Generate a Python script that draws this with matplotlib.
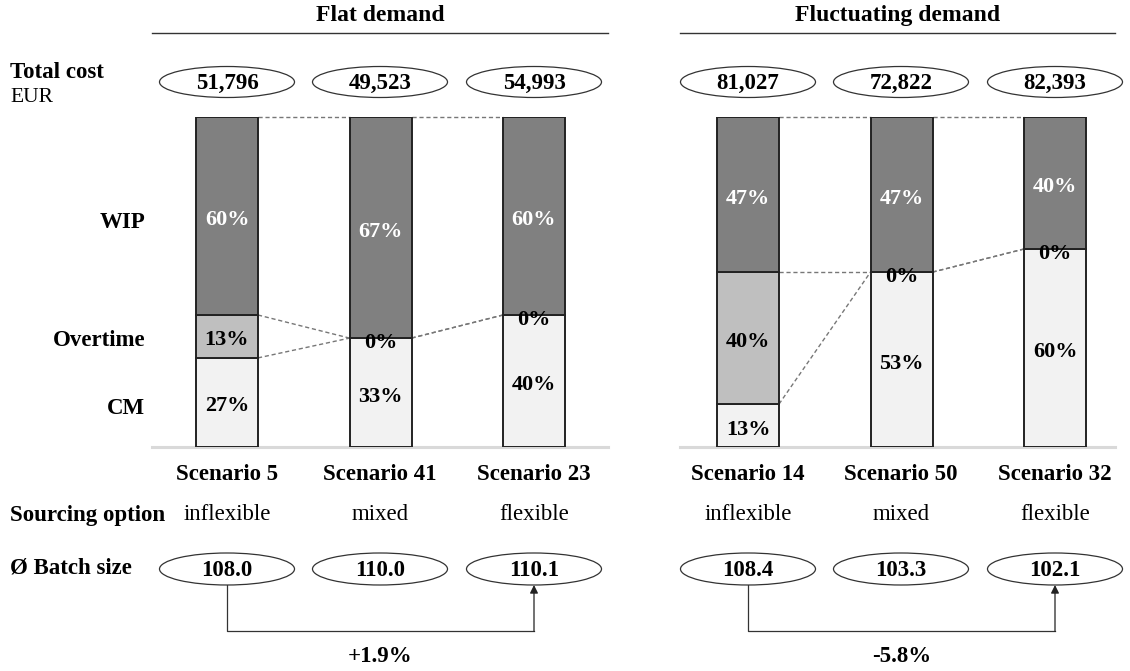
import numpy as np
import matplotlib
matplotlib.use("Agg")
import matplotlib.pyplot as plt
from matplotlib.patches import Ellipse

plt.rcParams["font.family"] = ["Liberation Serif", "DejaVu Serif"]

# data
panel_titles = ["Flat demand", "Fluctuating demand"]
scenarios = [["Scenario 5", "Scenario 41", "Scenario 23"],
             ["Scenario 14", "Scenario 50", "Scenario 32"]]
sourcing = ["inflexible", "mixed", "flexible"]
total_cost = [[51796, 49523, 54993], [81027, 72822, 82393]]
cm_share = [[27, 33, 40], [13, 53, 60]]
overtime_share = [[13, 0, 0], [40, 0, 0]]
wip_share = [[60, 67, 60], [47, 47, 40]]
batch_size = [[108.0, 110.0, 110.1], [108.4, 103.3, 102.1]]

# colours
c_wip = "#808080"
c_ot = "#bfbfbf"
c_cm = "#f2f2f2"

W, H = 1130, 671
fig = plt.figure(figsize=(W / 100, H / 100), dpi=100)

# overlay in pixel units for all the table-like text
ov = fig.add_axes([0, 0, 1, 1])
ov.set_xlim(0, W)
ov.set_ylim(H, 0)
ov.axis("off")

col_x = [[227, 380, 534], [748, 901, 1055]]
step = 153.5
bar_w = 62 / step
y_bottom, y_top = 447, 117
baseline_px = [(152, 608), (680, 1115)]

fs = 16.5
fs_pct = 16

for p in range(2):
    cx = col_x[p]
    left_px = cx[0] - step / 2
    ax = fig.add_axes([left_px / W, (H - y_bottom) / H, 3 * step / W, (y_bottom - y_top) / H],
                      zorder=2)
    ax.set_xlim(-0.5, 2.5)
    ax.set_ylim(0, 100)
    ax.axis("off")
    ax.patch.set_alpha(0)

    x = np.arange(3)
    cm = np.array(cm_share[p])
    ot = np.array(overtime_share[p])
    wip = np.array(wip_share[p])

    # light base line
    bx0 = (baseline_px[p][0] - cx[0]) / step
    bx1 = (baseline_px[p][1] - cx[0]) / step
    ax.plot([bx0, bx1], [0, 0], color="#d9d9d9", lw=2.2, zorder=1, clip_on=False)

    kw = dict(width=bar_w, edgecolor="#222222", linewidth=1.4, zorder=3)
    ax.bar(x, cm, color=c_cm, **kw)
    ax.bar(x, ot, bottom=cm, color=c_ot, **kw)
    ax.bar(x, wip, bottom=cm + ot, color=c_wip, **kw)

    # dashed connectors between neighbouring bars
    levels = np.vstack([cm, cm + ot, cm + ot + wip])
    for i in range(2):
        for lv in range(3):
            ax.plot([x[i] + bar_w / 2, x[i + 1] - bar_w / 2],
                    [levels[lv, i], levels[lv, i + 1]],
                    color="#777777", lw=1.0, ls=(0, (3, 2)), zorder=2, clip_on=False)

    # segment labels (white on the dark WIP part)
    for i in range(3):
        bottoms = [0, cm[i], cm[i] + ot[i]]
        colors = ["black", "black", "white"]
        for val, b, tc in zip([cm[i], ot[i], wip[i]], bottoms, colors):
            if val == 0:
                y, tc = b - 1.6, "black"
            else:
                y = b + val / 2 - 1.2
            ax.text(x[i], y, f"{val}%", ha="center", va="center",
                    fontsize=fs_pct, fontweight="bold", color=tc, zorder=5)

    # header
    mid = (baseline_px[p][0] + baseline_px[p][1]) / 2
    ov.text(mid, 21, panel_titles[p], ha="center", va="baseline",
            fontsize=fs + 0.5, fontweight="bold")
    ov.plot(baseline_px[p], [33, 33], color="#333333", lw=1.0)

    for i in range(3):
        # total cost ellipse
        ov.add_patch(Ellipse((cx[i], 82), 135, 31, facecolor="white",
                             edgecolor="#333333", lw=0.9))
        ov.text(cx[i], 83, f"{total_cost[p][i]:,}", ha="center", va="center",
                fontsize=fs, fontweight="bold")
        ov.text(cx[i], 474, scenarios[p][i], ha="center", va="center",
                fontsize=fs, fontweight="bold")
        ov.text(cx[i], 515, sourcing[i], ha="center", va="center", fontsize=fs)
        ov.add_patch(Ellipse((cx[i], 569), 135, 32, facecolor="white",
                             edgecolor="#333333", lw=0.9, zorder=3))
        ov.text(cx[i], 570, f"{batch_size[p][i]:.1f}", ha="center", va="center",
                fontsize=fs, fontweight="bold", zorder=4)

    # change in batch size from inflexible to flexible
    b = batch_size[p]
    change = (b[2] / b[0] - 1) * 100
    ov.plot([cx[0], cx[0], cx[2]], [585, 631, 631], color="#333333", lw=0.9)
    ov.annotate("", xy=(cx[2], 585), xytext=(cx[2], 631.4),
                arrowprops=dict(arrowstyle="-|>", color="#222222", lw=0.9,
                                mutation_scale=12, shrinkA=0, shrinkB=0))
    ov.text((cx[0] + cx[2]) / 2, 657, f"{change:+.1f}%", ha="center", va="center",
            fontsize=fs, fontweight="bold")

# row labels
ov.text(10, 73, "Total cost", ha="left", va="center", fontsize=fs, fontweight="bold")
ov.text(10, 97, "EUR", ha="left", va="center", fontsize=fs - 1)
ov.text(145, 223, "WIP", ha="right", va="center", fontsize=fs, fontweight="bold")
ov.text(145, 340, "Overtime", ha="right", va="center", fontsize=fs, fontweight="bold")
ov.text(145, 408, "CM", ha="right", va="center", fontsize=fs, fontweight="bold")
ov.text(10, 515, "Sourcing option", ha="left", va="center", fontsize=fs, fontweight="bold")
ov.text(10, 568, "Ø Batch size", ha="left", va="center", fontsize=fs, fontweight="bold")

fig.savefig("out.png", dpi=100)
